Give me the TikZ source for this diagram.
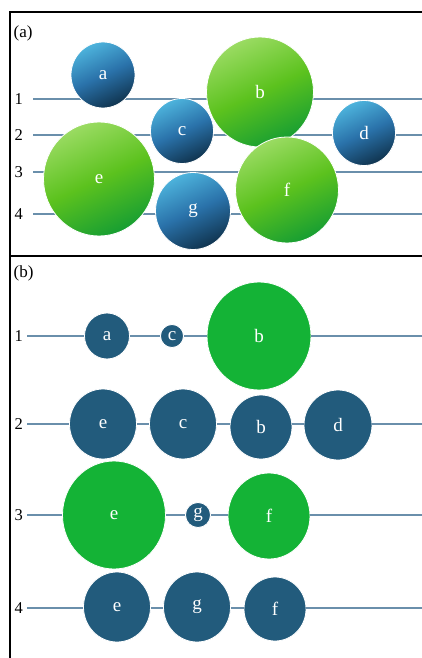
\documentclass[tikz,border=0pt]{standalone}
\usepackage{fontspec}
\setmainfont{Liberation Serif}
\usetikzlibrary{shapes.geometric}
\definecolor{lvl}{HTML}{6A8FAB}
\definecolor{bfill}{HTML}{225B7C}
\definecolor{gfill}{HTML}{14B336}
\definecolor{blA}{HTML}{4DB3DC}
\definecolor{blB}{HTML}{2A72AA}
\definecolor{blC}{HTML}{10344F}
\definecolor{grA}{HTML}{9ADB62}
\definecolor{grB}{HTML}{5CC21E}
\definecolor{grC}{HTML}{179E32}
\begin{document}
\begin{tikzpicture}[x=1pt,y=-1pt,
  frameline/.style={draw=black, line width=1.2pt},
  lvlline/.style={draw=lvl, line width=1.6pt},
  ball/.style={ellipse, inner sep=0pt, draw=white, line width=0.8pt, text=white,
    font=\fontsize{19}{19}\selectfont},
  sz/.style 2 args={minimum width=#1pt, minimum height=#2pt},
  blueball/.style={ball, top color=blA, bottom color=blC, middle color=blB, shading angle=25},
  greenball/.style={ball, top color=grA, bottom color=grC, middle color=grB, shading angle=25},
  bflat/.style={ball, fill=bfill},
  gflat/.style={ball, fill=gfill},
  numlab/.style={anchor=east, inner sep=0pt, font=\fontsize{16.5}{16.5}\selectfont},
  panlab/.style={anchor=west, inner sep=0pt, font=\fontsize{17}{17}\selectfont}
]
\useasboundingbox (0,0) rectangle (422,658);
\fill[white] (0,0) rectangle (422,658);

% frame
\draw[frameline] (422,12) -- (10,12) -- (10,658);
\draw[frameline] (10,256) -- (422,256);

% ---------- panel (a) ----------
\node[panlab] (pa) at (13.5,33) {(a)};
\foreach \i/\y in {1/99,2/135,3/172,4/214}{
  \node[numlab] (na\i) at (23,\y) {\i};
  \coordinate (sa\i) at (33,\y);
  \coordinate (ea\i) at (422,\y);
  \draw[lvlline] (sa\i) -- (ea\i);
}
\node[blueball, sz={64}{66}] (Aa) at (103,75) {a};
\node[greenball, sz={111}{114}] (Ae) at (99,179) {e};
\node[blueball, sz={63}{65}] (Ac) at (182,131) {c};
\node[greenball, sz={107}{110}] (Ab) at (260,92) {b};
\node[blueball, sz={75}{77}] (Ag) at (193,211) {g};
\node[greenball, sz={103}{106}] (Af) at (287,190) {f};
\node[blueball, sz={63}{65}] (Ad) at (364,133) {d};

% ---------- panel (b) ----------
\node[panlab] (pb) at (13.5,273) {(b)};
\foreach \i/\y in {1/336,2/424,3/515,4/608}{
  \node[numlab] (nb\i) at (23,\y) {\i};
  \coordinate (sb\i) at (27,\y);
  \coordinate (eb\i) at (422,\y);
}
% row 1
\node[bflat, sz={45}{46}] (B1a) at (107,336) {a};
\node[bflat, sz={23}{23}] (B1c) at (172,336) {c};
\node[gflat, sz={104}{108}] (B1b) at (259,336) {b};
% row 2
\node[bflat, sz={67}{70}] (B2e) at (103,424) {e};
\node[bflat, sz={67}{70}] (B2c) at (183,424) {c};
\node[bflat, sz={62}{64}] (B2b) at (261,427) {b};
\node[bflat, sz={68}{70}] (B2d) at (338,425) {d};
% row 3
\node[gflat, sz={103}{108}] (B3e) at (114,515) {e};
\node[bflat, sz={25}{25}] (B3g) at (198,515) {g};
\node[gflat, sz={82}{86}] (B3f) at (269,516) {f};
% row 4
\node[bflat, sz={67}{70}] (B4e) at (117,607) {e};
\node[bflat, sz={67}{70}] (B4g) at (197,607) {g};
\node[bflat, sz={62}{64}] (B4f) at (275,609) {f};

\draw[lvlline] (sb1) -- (B1a.west);
\draw[lvlline] (B1a.east) -- (B1c.west);
\draw[lvlline] (B1c.east) -- (B1b.west);
\draw[lvlline] (B1b.east) -- (eb1);
\draw[lvlline] (sb2) -- (B2e.west);
\draw[lvlline] (B2e.east) -- (B2c.west);
\draw[lvlline] (B2c.east) -- (B2b.west |- sb2);
\draw[lvlline] (B2b.east |- sb2) -- (B2d.west |- sb2);
\draw[lvlline] (B2d.east |- sb2) -- (eb2);
\draw[lvlline] (sb3) -- (B3e.west);
\draw[lvlline] (B3e.east) -- (B3g.west);
\draw[lvlline] (B3g.east) -- (B3f.west |- sb3);
\draw[lvlline] (B3f.east |- sb3) -- (eb3);
\draw[lvlline] (sb4) -- (B4e.west |- sb4);
\draw[lvlline] (B4e.east |- sb4) -- (B4g.west |- sb4);
\draw[lvlline] (B4g.east |- sb4) -- (B4f.west |- sb4);
\draw[lvlline] (B4f.east |- sb4) -- (eb4);
\end{tikzpicture}
\end{document}
